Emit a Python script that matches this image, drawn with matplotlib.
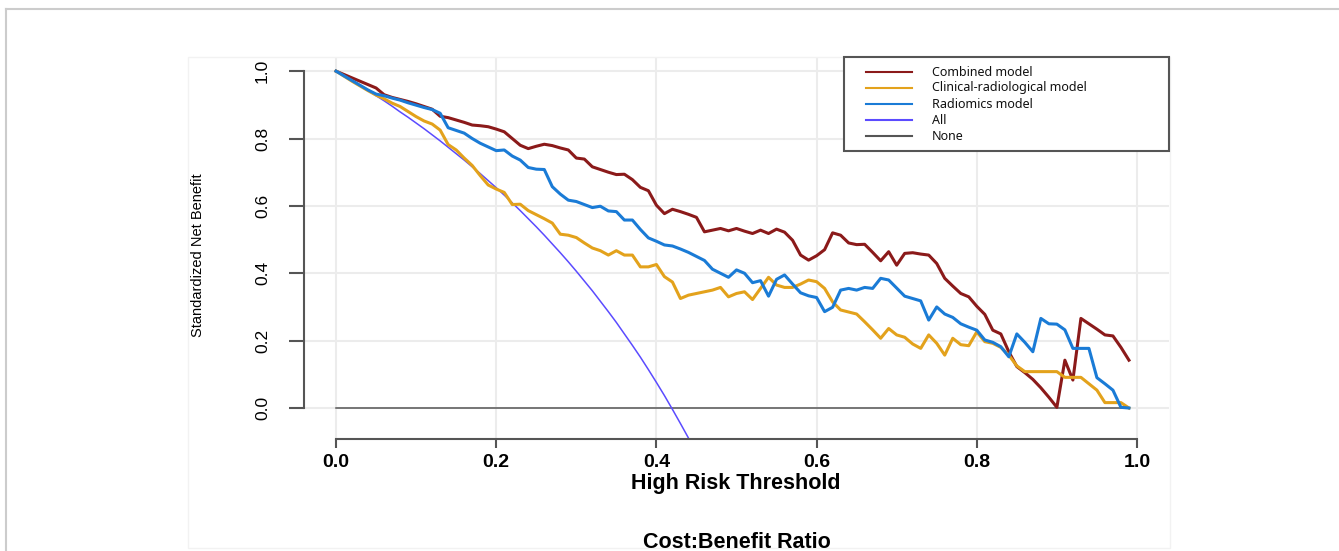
import numpy as np
import matplotlib
matplotlib.use("Agg")
import matplotlib.pyplot as plt
import matplotlib.ticker as ticker
from matplotlib.lines import Line2D
from matplotlib.patches import Rectangle

# risk thresholds 0.00 .. 0.99
thresholds = np.round(np.arange(0, 100) * 0.01, 2)

combined = [
    1.000, 0.990, 0.980, 0.970, 0.960, 0.950, 0.930, 0.922, 0.916, 0.910,
    0.903, 0.895, 0.887, 0.866, 0.862, 0.855, 0.848, 0.840, 0.838, 0.835,
    0.828, 0.820, 0.800, 0.780, 0.770, 0.777, 0.783, 0.779, 0.772, 0.766,
    0.742, 0.739, 0.716, 0.708, 0.700, 0.693, 0.694, 0.678, 0.655, 0.645,
    0.602, 0.577, 0.590, 0.583, 0.575, 0.566, 0.523, 0.528, 0.533, 0.526,
    0.533, 0.525, 0.518, 0.528, 0.518, 0.531, 0.522, 0.498, 0.454, 0.439,
    0.452, 0.470, 0.520, 0.513, 0.490, 0.485, 0.486, 0.462, 0.437, 0.464,
    0.424, 0.459, 0.461, 0.457, 0.454, 0.429, 0.385, 0.362, 0.340, 0.330,
    0.302, 0.278, 0.231, 0.220, 0.167, 0.123, 0.105, 0.085, 0.060, 0.032,
    0.002, 0.142, 0.083, 0.266, 0.250, 0.234, 0.217, 0.214, 0.180, 0.142,
]

clinical = [
    1.000, 0.985, 0.970, 0.956, 0.942, 0.929, 0.918, 0.905, 0.895, 0.880,
    0.865, 0.852, 0.843, 0.825, 0.782, 0.766, 0.742, 0.720, 0.690, 0.662,
    0.650, 0.640, 0.604, 0.605, 0.586, 0.574, 0.562, 0.549, 0.516, 0.513,
    0.506, 0.490, 0.475, 0.467, 0.454, 0.467, 0.454, 0.454, 0.419, 0.419,
    0.426, 0.390, 0.374, 0.325, 0.335, 0.340, 0.345, 0.350, 0.358, 0.330,
    0.340, 0.345, 0.322, 0.355, 0.388, 0.365, 0.358, 0.358, 0.368, 0.380,
    0.375, 0.355, 0.315, 0.291, 0.285, 0.279, 0.256, 0.232, 0.207, 0.236,
    0.217, 0.210, 0.190, 0.177, 0.217, 0.192, 0.157, 0.207, 0.188, 0.185,
    0.226, 0.197, 0.192, 0.180, 0.157, 0.125, 0.108, 0.108, 0.108, 0.108,
    0.108, 0.091, 0.091, 0.091, 0.072, 0.053, 0.016, 0.016, 0.016, 0.000,
]

radiomics = [
    1.000, 0.986, 0.972, 0.958, 0.944, 0.932, 0.927, 0.920, 0.914, 0.906,
    0.899, 0.892, 0.886, 0.875, 0.832, 0.824, 0.816, 0.800, 0.786, 0.775,
    0.764, 0.766, 0.748, 0.736, 0.714, 0.709, 0.708, 0.657, 0.635, 0.617,
    0.613, 0.604, 0.595, 0.599, 0.585, 0.583, 0.558, 0.558, 0.530, 0.505,
    0.495, 0.484, 0.481, 0.472, 0.462, 0.450, 0.438, 0.412, 0.400, 0.388,
    0.410, 0.400, 0.372, 0.378, 0.332, 0.382, 0.395, 0.368, 0.342, 0.333,
    0.328, 0.286, 0.299, 0.350, 0.355, 0.350, 0.358, 0.355, 0.385, 0.380,
    0.356, 0.332, 0.325, 0.318, 0.261, 0.300, 0.279, 0.269, 0.250, 0.240,
    0.231, 0.202, 0.195, 0.182, 0.152, 0.220, 0.195, 0.167, 0.266, 0.250,
    0.249, 0.232, 0.177, 0.177, 0.177, 0.090, 0.072, 0.053, 0.002, 0.000,
]

# treat-all curve (0.00 .. 0.46)
all_y = [
    1.000, 0.986, 0.972, 0.957, 0.942, 0.927, 0.912, 0.896, 0.879, 0.863,
    0.846, 0.829, 0.811, 0.793, 0.774, 0.755, 0.736, 0.716, 0.696, 0.675,
    0.654, 0.632, 0.609, 0.586, 0.562, 0.538, 0.513, 0.487, 0.461, 0.434,
    0.406, 0.377, 0.348, 0.317, 0.286, 0.254, 0.220, 0.186, 0.151, 0.114,
    0.076, 0.037, -0.004, -0.046, -0.089, -0.134, -0.181,
]
all_x = thresholds[:len(all_y)]

none_y = [0.0] * len(thresholds)

labels = ["Combined model", "Clinical-radiological model", "Radiomics model", "All", "None"]
colors = ["#8b1a1a", "#e3a21c", "#1a7bd6", "#5b4bff", "#555555"]
widths = [2.2, 2.2, 2.2, 1.1, 1.1]

W, H = 1339, 551
fig = plt.figure(figsize=(W / 100, H / 100), dpi=100)
ax = fig.add_axes([304 / W, 1 - 439 / H, 865 / W, 382 / H])

ax.plot(thresholds, none_y, color=colors[4], lw=widths[4], zorder=2)
ax.plot(all_x, all_y, color=colors[3], lw=widths[3], zorder=2)
ax.plot(thresholds, combined, color=colors[0], lw=widths[0], zorder=3)
ax.plot(thresholds, clinical, color=colors[1], lw=widths[1], zorder=3)
ax.plot(thresholds, radiomics, color=colors[2], lw=widths[2], zorder=3)

ax.set_xlim(-0.04, 1.04)
ax.set_ylim(-0.092, 1.042)
ax.set_xticks([0, 0.2, 0.4, 0.6, 0.8, 1.0])
ax.set_yticks([0, 0.2, 0.4, 0.6, 0.8, 1.0])
ax.xaxis.set_major_formatter(ticker.FormatStrFormatter("%.1f"))
ax.yaxis.set_major_formatter(ticker.FormatStrFormatter("%.1f"))
ax.set_axisbelow(True)
ax.grid(color="#ececec", lw=1.5)

for s in ["top", "right"]:
    ax.spines[s].set_visible(False)
for s in ["left", "bottom"]:
    ax.spines[s].set_bounds(0, 1)
    ax.spines[s].set_color("#555555")
    ax.spines[s].set_linewidth(1.5)

ax.tick_params(axis="x", length=6.5, width=1.5, color="#555555", pad=4)
ax.tick_params(axis="y", length=10.5, width=1.5, color="#555555", pad=14)
for lbl in ax.get_xticklabels():
    lbl.set_fontfamily(["Liberation Sans", "DejaVu Sans"])
    lbl.set_fontsize(14)
    lbl.set_fontweight("bold")
for lbl in ax.get_yticklabels():
    lbl.set_fontfamily(["Liberation Sans Narrow", "Liberation Sans", "DejaVu Sans"])
    lbl.set_fontsize(12.5)
    lbl.set_rotation(90)
    lbl.set_va("center")

fig.text(736 / W, 1 - 483 / H, "High Risk Threshold", ha="center", va="center",
         fontsize=15.5, fontweight="bold", family=["Liberation Sans", "DejaVu Sans"])
fig.text(737 / W, 1 - 542 / H, "Cost:Benefit Ratio", ha="center", va="center",
         fontsize=15.5, fontweight="bold", family=["Liberation Sans", "DejaVu Sans"])
fig.text(198 / W, 1 - 255 / H, "Standardized Net Benefit", ha="center", va="center",
         rotation=90, fontsize=10.5,
         family=["Liberation Sans Narrow", "Liberation Sans", "DejaVu Sans"])

# legend box, drawn by hand to match the R layout
fig.add_artist(Rectangle((844 / W, 1 - 151 / H), (1169 - 844) / W, (151 - 57) / H,
                         transform=fig.transFigure, fill=True, fc="white",
                         ec="#555555", lw=1.5, zorder=5))
for k, (lab, col) in enumerate(zip(labels, colors)):
    yy = 1 - (72 + 16 * k) / H
    fig.add_artist(Line2D([866 / W, 912 / W], [yy, yy], transform=fig.transFigure,
                          color=col, lw=1.5, zorder=6))
    fig.text(932 / W, yy, lab, ha="left", va="center", fontsize=9,
             family=["Noto Sans", "DejaVu Sans"], color="#111111", zorder=6)

# faint panel outline and outer frame of the screenshot
fig.add_artist(Rectangle((188 / W, 1 - 548 / H), (1170 - 188) / W, (548 - 57) / H,
                         transform=fig.transFigure, fill=False, ec="#f2f2f2", lw=1))
fig.add_artist(Line2D([6 / W, 1], [1 - 8.5 / H, 1 - 8.5 / H], transform=fig.transFigure,
                      color="#cccccc", lw=1.5))
fig.add_artist(Line2D([6.5 / W, 6.5 / W], [0, 1 - 8.5 / H], transform=fig.transFigure,
                      color="#cccccc", lw=1.5))

fig.savefig("out.png", dpi=100)
